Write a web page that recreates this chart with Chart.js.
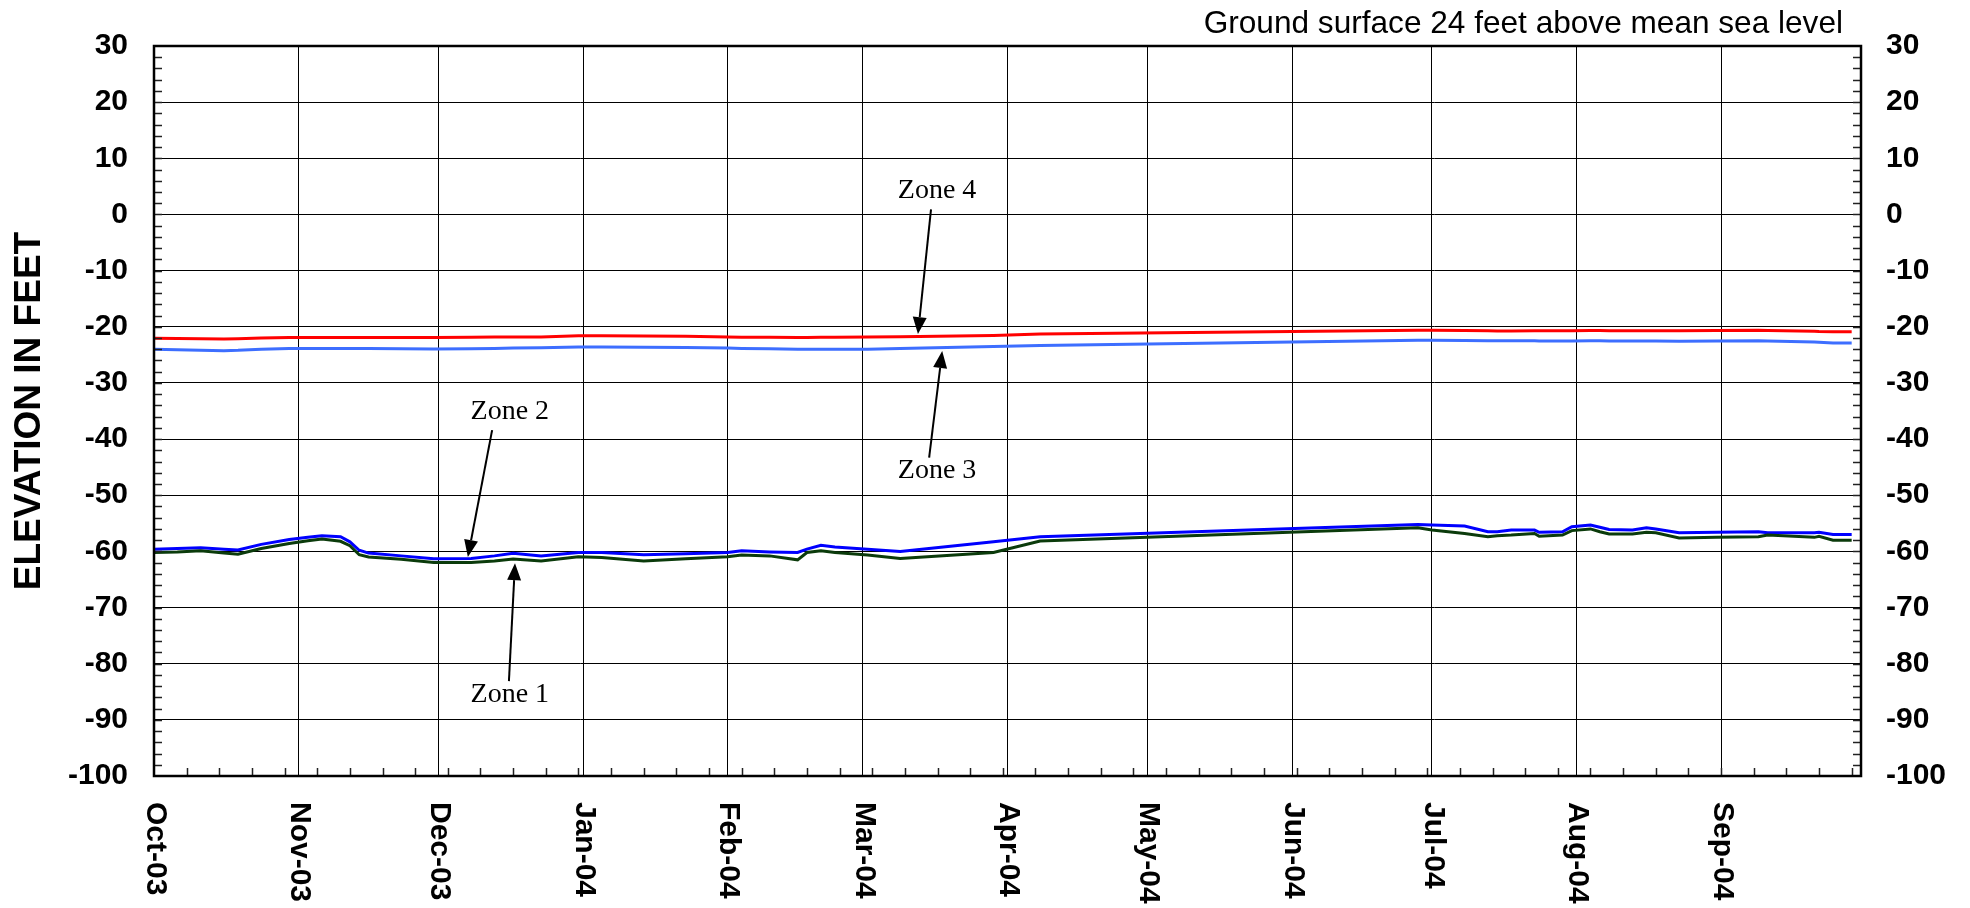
<!DOCTYPE html>
<html lang="en">
<head>
  <meta charset="UTF-8">
  <title>Groundwater Elevation - Zones 1 to 4</title>
  <script src="https://cdn.jsdelivr.net/npm/chart.js"></script>
  <style>
    html, body { margin: 0; padding: 0; background: #fff; }
  </style>
</head>
<body>
  <canvas id="elev-chart" width="1970" height="908"></canvas>

  <script>
    // Sample dates (water year Oct 2003 - Sep 2004)
    const sampleDates = [
      '2003-10-01','2003-10-06','2003-10-11','2003-10-16','2003-10-19','2003-10-24','2003-10-30',
      '2003-11-03','2003-11-06','2003-11-10','2003-11-12','2003-11-14','2003-11-16','2003-11-23','2003-11-30',
      '2003-12-08','2003-12-13','2003-12-17','2003-12-23','2003-12-31',
      '2004-01-05','2004-01-14','2004-01-23',
      '2004-02-01','2004-02-04','2004-02-10','2004-02-16','2004-02-18','2004-02-21','2004-02-24',
      '2004-03-02','2004-03-09','2004-03-29','2004-04-08','2004-06-28',
      '2004-07-01','2004-07-08','2004-07-13','2004-07-15','2004-07-18','2004-07-23','2004-07-24','2004-07-29','2004-07-31',
      '2004-08-04','2004-08-06','2004-08-08','2004-08-13','2004-08-16','2004-08-18','2004-08-23','2004-08-31',
      '2004-09-09','2004-09-11','2004-09-21','2004-09-22','2004-09-25','2004-09-29'
    ];

    // Elevations in feet (msl)
    const zone1 = [
      -60.2,-60.1,-59.9,-60.3,-60.5,-59.5,-58.6,-58.1,-57.8,-58.2,-59.0,-60.6,-61.0,-61.4,-62.0,
      -62.0,-61.7,-61.35,-61.7,-60.95,-61.1,-61.7,-61.3,-60.95,-60.65,-60.8,-61.5,-60.2,-59.9,-60.2,
      -60.65,-61.25,-60.2,-58.15,-55.8,-56.2,-56.8,-57.4,-57.2,-57.1,-56.8,-57.3,-57.1,-56.3,
      -56.0,-56.5,-56.9,-56.9,-56.6,-56.7,-57.6,-57.5,-57.4,-57.1,-57.5,-57.3,-58.0,-58.0
    ];
    const zone2 = [
      -59.6,-59.5,-59.35,-59.6,-59.75,-58.75,-57.9,-57.5,-57.2,-57.4,-58.3,-59.8,-60.3,-60.8,-61.3,
      -61.25,-60.8,-60.35,-60.8,-60.2,-60.2,-60.6,-60.4,-60.2,-59.9,-60.1,-60.2,-59.6,-58.9,-59.2,
      -59.6,-60.0,-58.3,-57.4,-55.2,-55.3,-55.5,-56.5,-56.5,-56.2,-56.2,-56.6,-56.5,-55.6,
      -55.3,-55.7,-56.1,-56.2,-55.8,-56.0,-56.7,-56.6,-56.5,-56.7,-56.7,-56.6,-57.0,-57.0
    ];
    const zone3 = [
      -24.0,-24.1,-24.2,-24.25,-24.2,-24.0,-23.85,-23.85,-23.85,-23.85,-23.85,-23.85,-23.85,-23.9,-23.95,
      -23.9,-23.85,-23.8,-23.75,-23.6,-23.6,-23.65,-23.7,-23.8,-23.85,-23.9,-24.0,-24.0,-24.0,-24.0,
      -24.0,-23.85,-23.5,-23.35,-22.4,-22.4,-22.45,-22.5,-22.5,-22.5,-22.5,-22.55,-22.55,-22.55,
      -22.5,-22.5,-22.55,-22.55,-22.55,-22.55,-22.6,-22.55,-22.5,-22.55,-22.7,-22.75,-22.9,-22.9
    ];
    const zone4 = [
      -22.05,-22.1,-22.15,-22.2,-22.15,-22.0,-21.9,-21.9,-21.9,-21.9,-21.9,-21.9,-21.9,-21.9,-21.9,
      -21.85,-21.8,-21.8,-21.8,-21.6,-21.6,-21.65,-21.7,-21.8,-21.85,-21.85,-21.9,-21.9,-21.85,-21.85,
      -21.8,-21.77,-21.55,-21.3,-20.6,-20.6,-20.65,-20.7,-20.75,-20.75,-20.7,-20.7,-20.7,-20.7,
      -20.65,-20.65,-20.7,-20.7,-20.7,-20.7,-20.7,-20.65,-20.6,-20.65,-20.8,-20.85,-20.9,-20.9
    ];

    // Month axis
    const monthLabels = ['Oct-03','Nov-03','Dec-03','Jan-04','Feb-04','Mar-04','Apr-04','May-04','Jun-04','Jul-04','Aug-04','Sep-04'];
    const monthStarts = ['2003-10-01','2003-11-01','2003-12-01','2004-01-01','2004-02-01','2004-03-01',
                         '2004-04-01','2004-05-01','2004-06-01','2004-07-01','2004-08-01','2004-09-01'];
    const axisStart = '2003-10-01';
    const axisEnd = '2004-10-01';

    // Zone callouts: [day offset from axisStart, elevation]
    const zoneNotes = [
      { text: 'Zone 4', label: [167.9, 4.2],   from: [166.6, 0.9],   to: [163.8, -21.3] },
      { text: 'Zone 3', label: [167.9, -45.6], from: [166.2, -43.3], to: [169.0, -24.3] },
      { text: 'Zone 2', label: [76.3, -35.2],  from: [72.5, -38.4],  to: [67.3, -61.0] },
      { text: 'Zone 1', label: [76.3, -85.6],  from: [76.1, -83.1],  to: [77.4, -62.1] }
    ];
    const noteText = 'Ground surface 24 feet above mean sea level';

    const t0 = Date.parse(axisStart);
    const dayOf = s => (Date.parse(s) - t0) / 86400000;
    const series = vals => sampleDates.map((d, i) => ({ x: dayOf(d), y: vals[i] }));

    const sansBold = { family: '"Liberation Sans", Arial, sans-serif', size: 30, weight: 'bold' };

    // Minor ticks, frame, rotated month labels and callouts
    const extras = {
      id: 'extras',
      afterDraw(chart) {
        const { ctx, chartArea: a, scales } = chart;
        const x = scales.x, y = scales.y;
        ctx.save();

        ctx.strokeStyle = '#222';
        ctx.lineWidth = 1.5;
        ctx.beginPath();
        for (let v = -98; v < 30; v += 2) {
          const py = Math.round(y.getPixelForValue(v)) + 0.5;
          ctx.moveTo(a.left, py); ctx.lineTo(a.left + 8, py);
          ctx.moveTo(a.right - 8, py); ctx.lineTo(a.right, py);
        }
        for (let d = 7; d < dayOf(axisEnd); d += 7) {
          const px = Math.round(x.getPixelForValue(d)) + 0.5;
          ctx.moveTo(px, a.bottom); ctx.lineTo(px, a.bottom - 8);
        }
        ctx.stroke();

        ctx.strokeStyle = '#000';
        ctx.lineWidth = 2.5;
        ctx.strokeRect(a.left, a.top, a.right - a.left, a.bottom - a.top);

        // month labels, read top to bottom
        ctx.fillStyle = '#000';
        ctx.font = 'bold 30px "Liberation Sans", Arial, sans-serif';
        ctx.textAlign = 'left';
        ctx.textBaseline = 'middle';
        monthStarts.forEach((m, i) => {
          ctx.save();
          ctx.translate(x.getPixelForValue(dayOf(m)) + 1, a.bottom + 26);
          ctx.rotate(Math.PI / 2);
          ctx.fillText(monthLabels[i], 0, 0);
          ctx.restore();
        });

        // note above the plot
        ctx.font = '31.6px "Liberation Sans", Arial, sans-serif';
        ctx.textAlign = 'right';
        ctx.textBaseline = 'alphabetic';
        ctx.fillText(noteText, a.right - 18, a.top - 13);

        // zone callouts
        ctx.font = '28px "Liberation Serif", "Times New Roman", serif';
        ctx.textAlign = 'center';
        ctx.textBaseline = 'middle';
        ctx.lineWidth = 2;
        zoneNotes.forEach(n => {
          const lx = x.getPixelForValue(n.label[0]), ly = y.getPixelForValue(n.label[1]);
          ctx.fillText(n.text, lx, ly);
          const x1 = x.getPixelForValue(n.from[0]), y1 = y.getPixelForValue(n.from[1]);
          const x2 = x.getPixelForValue(n.to[0]), y2 = y.getPixelForValue(n.to[1]);
          const ang = Math.atan2(y2 - y1, x2 - x1);
          const head = 17, half = 7;
          const bx = x2 - head * Math.cos(ang), by = y2 - head * Math.sin(ang);
          ctx.beginPath();
          ctx.moveTo(x1, y1); ctx.lineTo(bx, by);
          ctx.stroke();
          ctx.beginPath();
          ctx.moveTo(x2, y2);
          ctx.lineTo(bx + half * Math.sin(ang), by - half * Math.cos(ang));
          ctx.lineTo(bx - half * Math.sin(ang), by + half * Math.cos(ang));
          ctx.closePath();
          ctx.fill();
        });

        ctx.restore();
      }
    };

    const line = (label, vals, color) => ({
      label, data: series(vals), borderColor: color, backgroundColor: color,
      borderWidth: 3, pointRadius: 0, tension: 0, fill: false
    });

    new Chart(document.getElementById('elev-chart').getContext('2d'), {
      type: 'line',
      data: {
        datasets: [
          line('Zone 4', zone4, '#FF0000'),
          line('Zone 3', zone3, '#3D6EFF'),
          line('Zone 1', zone1, '#0B3B0B'),
          line('Zone 2', zone2, '#0000FF')
        ]
      },
      options: {
        responsive: false,
        animation: false,
        events: [],
        layout: { padding: { top: 46, right: 0, bottom: 0, left: 0 } },
        plugins: { legend: { display: false }, tooltip: { enabled: false } },
        scales: {
          x: {
            type: 'linear',
            min: 0,
            max: dayOf(axisEnd),
            afterBuildTicks: s => { s.ticks = monthStarts.map(m => ({ value: dayOf(m) })); },
            afterFit: s => { s.height = 132; },
            ticks: { display: false, autoSkip: false },
            grid: { color: '#000', lineWidth: 1, drawTicks: false },
            border: { display: false }
          },
          y: {
            position: 'left',
            min: -100,
            max: 30,
            afterFit: s => { s.width = 154; },
            ticks: { stepSize: 10, color: '#000', font: sansBold, padding: 26 },
            grid: { color: '#000', lineWidth: 1, drawTicks: false },
            border: { display: false },
            title: {
              display: true,
              text: 'ELEVATION IN FEET',
              color: '#000',
              font: { family: '"Liberation Sans", Arial, sans-serif', size: 37, weight: 'bold' },
              padding: { top: 8, bottom: 0 }
            }
          },
          y2: {
            position: 'right',
            min: -100,
            max: 30,
            afterFit: s => { s.width = 109; },
            ticks: { stepSize: 10, color: '#000', font: sansBold, padding: 25 },
            grid: { display: false, drawTicks: false },
            border: { display: false }
          }
        }
      },
      plugins: [extras]
    });
  </script>
</body>
</html>
